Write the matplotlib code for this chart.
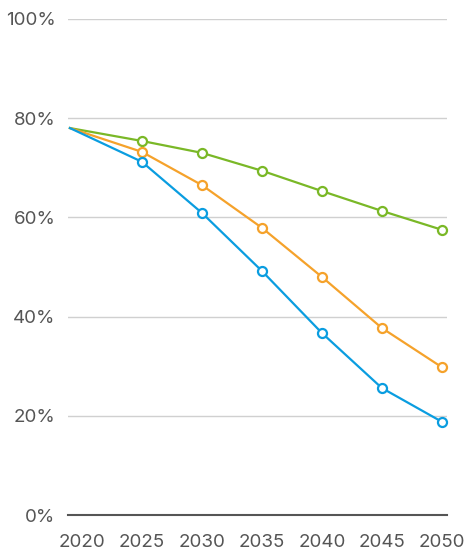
import matplotlib.pyplot as plt

# first point is the baseline (drawn just left of the 2020 tick)
years = [2019, 2025, 2030, 2035, 2040, 2045, 2050]
tick_years = [2020, 2025, 2030, 2035, 2040, 2045, 2050]
green = [78.0, 75.4, 73.0, 69.4, 65.3, 61.3, 57.5]
orange = [78.0, 73.2, 66.5, 57.9, 48.0, 37.7, 29.8]
blue = [78.0, 71.2, 60.9, 49.2, 36.7, 25.6, 18.8]
yticks = [0, 20, 40, 60, 80, 100]

plt.rcParams['font.family'] = ['Inter', 'DejaVu Sans']

fig = plt.figure(figsize=(4.65, 5.5), dpi=100)
ax = fig.add_axes([0.146, 0.0636, 0.815, 0.902])

for vals, col in [(green, '#7ab827'), (orange, '#f5a22b'), (blue, '#0a9de0')]:
    ax.plot(years, vals, color=col, lw=1.6, zorder=3)
    ax.plot(years[1:], vals[1:], 'o', ms=6.5, mfc='white', mec=col, mew=1.6,
            zorder=4, clip_on=False)

ax.set_xlim(2018.83, 2050.42)
ax.set_ylim(0, 100)
ax.set_yticks(yticks)
ax.set_yticklabels([f'{v}%' for v in yticks])
ax.set_xticks(tick_years)
ax.grid(axis='y', color='#d0d0d0', lw=1)
ax.set_axisbelow(True)
for s in ['top', 'right', 'left']:
    ax.spines[s].set_visible(False)
ax.spines['bottom'].set_color('#555555')
ax.spines['bottom'].set_linewidth(1.5)
ax.tick_params(length=0, labelsize=13.5, labelcolor='#555555')
ax.tick_params(axis='y', pad=9)
ax.tick_params(axis='x', pad=14)

fig.savefig('out.png', dpi=100)
